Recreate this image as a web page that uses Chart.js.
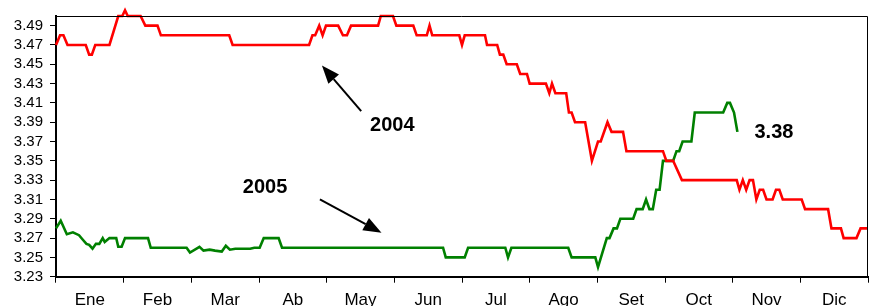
<!DOCTYPE html>
<html>
<head>
<meta charset="utf-8">
<script src="https://cdn.jsdelivr.net/npm/chart.js@4"></script>
<style>
html,body{margin:0;padding:0;background:#fff;}
canvas{display:block;}
</style>
</head>
<body>
<canvas id="c" width="871" height="306"></canvas>
<script>
const months = ['Ene','Feb','Mar','Ab','May','Jun','Jul','Ago','Set','Oct','Nov','Dic'];
const yTicks = [3.23,3.25,3.27,3.29,3.31,3.33,3.35,3.37,3.39,3.41,3.43,3.45,3.47,3.49];

// 2004 series: x in months since start of year, y in soles
const x2004 = [0.00,0.06,0.11,0.17,0.44,0.49,0.53,0.58,0.79,0.92,0.98,1.02,1.06,1.25,1.32,1.50,1.55,2.56,2.61,3.74,3.79,3.83,3.89,3.94,3.99,4.17,4.24,4.30,4.36,4.76,4.80,4.98,5.03,5.28,5.33,5.48,5.52,5.56,5.96,6.00,6.04,6.34,6.37,6.52,6.56,6.61,6.66,6.81,6.86,6.96,7.00,7.24,7.29,7.33,7.38,7.54,7.58,7.62,7.67,7.82,7.92,8.01,8.05,8.15,8.21,8.38,8.43,8.97,9.02,9.12,9.25,10.06,10.10,10.15,10.20,10.25,10.30,10.35,10.40,10.45,10.50,10.59,10.64,10.69,10.74,11.02,11.07,11.41,11.46,11.60,11.64,11.83,11.89,12.00];
const y2004 = [3.47,3.48,3.48,3.47,3.47,3.46,3.46,3.47,3.47,3.50,3.50,3.506,3.50,3.50,3.49,3.49,3.48,3.48,3.47,3.47,3.48,3.48,3.49,3.48,3.49,3.49,3.48,3.48,3.49,3.49,3.50,3.50,3.49,3.49,3.48,3.48,3.49,3.48,3.48,3.47,3.48,3.48,3.47,3.47,3.46,3.46,3.45,3.45,3.44,3.44,3.43,3.43,3.42,3.43,3.42,3.42,3.40,3.40,3.39,3.39,3.35,3.37,3.37,3.39,3.38,3.38,3.36,3.36,3.35,3.35,3.33,3.33,3.32,3.33,3.32,3.33,3.33,3.31,3.32,3.32,3.31,3.31,3.32,3.32,3.31,3.31,3.30,3.30,3.28,3.28,3.27,3.27,3.28,3.28];

// 2005 series
const x2005 = [0.00,0.07,0.16,0.25,0.34,0.40,0.45,0.49,0.54,0.59,0.64,0.69,0.72,0.79,0.89,0.92,0.97,1.02,1.36,1.40,1.93,1.98,2.12,2.18,2.27,2.35,2.45,2.51,2.57,2.65,2.87,2.93,3.01,3.07,3.29,3.34,5.72,5.76,6.04,6.09,6.64,6.68,6.73,7.57,7.62,7.97,8.01,8.14,8.18,8.24,8.29,8.34,8.53,8.58,8.67,8.72,8.77,8.82,8.87,8.92,8.97,9.12,9.17,9.21,9.26,9.39,9.44,9.86,9.92,9.96,10.02,10.07];
const y2005 = [3.28,3.288,3.274,3.276,3.273,3.268,3.264,3.263,3.259,3.264,3.264,3.27,3.266,3.27,3.27,3.261,3.261,3.27,3.27,3.26,3.26,3.255,3.261,3.257,3.258,3.257,3.256,3.262,3.258,3.259,3.259,3.26,3.26,3.27,3.27,3.26,3.26,3.25,3.25,3.26,3.26,3.25,3.26,3.26,3.25,3.25,3.24,3.27,3.27,3.28,3.28,3.29,3.29,3.30,3.30,3.31,3.30,3.30,3.32,3.32,3.35,3.35,3.36,3.36,3.37,3.37,3.40,3.40,3.41,3.41,3.40,3.38];

// annotations (data coordinates)
const noteLabels = [
  {text:'2004', x:4.97, y:3.387},
  {text:'2005', x:3.09, y:3.322},
  {text:'3.38', x:10.61, y:3.379}
];
const noteArrows = [
  {from:[4.51,3.4015], to:[3.93,3.4487]},
  {from:[3.90,3.310], to:[4.81,3.2755]}
];

const FONT = "'Liberation Sans', Arial, sans-serif";

function pts(xs, ys){ return xs.map((x,i)=>({x:x, y:ys[i]})); }

const frame = {
  id:'frame',
  afterDatasetsDraw(chart){
    const {ctx, chartArea:a} = chart;
    ctx.save();
    ctx.strokeStyle = '#000';
    ctx.lineWidth = 1;
    ctx.beginPath();
    ctx.moveTo(a.left, a.top + 0.5);
    ctx.lineTo(a.right - 0.5, a.top + 0.5);
    ctx.lineTo(a.right - 0.5, a.bottom);
    ctx.stroke();
    const xs = chart.scales.xm, ys = chart.scales.y;
    noteArrows.forEach(ar=>{
      const x1 = xs.getPixelForValue(ar.from[0]), y1 = ys.getPixelForValue(ar.from[1]);
      const x2 = xs.getPixelForValue(ar.to[0]), y2 = ys.getPixelForValue(ar.to[1]);
      const ang = Math.atan2(y2-y1, x2-x1);
      const L = 18, W = 7;
      const bx = x2 - L*Math.cos(ang), by = y2 - L*Math.sin(ang);
      ctx.strokeStyle = '#000';
      ctx.lineWidth = 2;
      ctx.beginPath();
      ctx.moveTo(x1,y1);
      ctx.lineTo(bx,by);
      ctx.stroke();
      ctx.fillStyle = '#000';
      ctx.beginPath();
      ctx.moveTo(x2,y2);
      ctx.lineTo(bx + W*Math.sin(ang), by - W*Math.cos(ang));
      ctx.lineTo(bx - W*Math.sin(ang), by + W*Math.cos(ang));
      ctx.closePath();
      ctx.fill();
    });
    ctx.fillStyle = '#000';
    ctx.font = "bold 20px " + FONT;
    ctx.textAlign = 'center';
    ctx.textBaseline = 'middle';
    noteLabels.forEach(l=>{
      ctx.fillText(l.text, xs.getPixelForValue(l.x), ys.getPixelForValue(l.y));
    });
    ctx.restore();
  }
};

new Chart(document.getElementById('c'), {
  type:'line',
  data:{
    labels: months,
    datasets:[
      {label:'2004', data:pts(x2004,y2004), xAxisID:'xm', yAxisID:'y', borderColor:'#FF0000', borderWidth:2.6, pointRadius:0, tension:0, fill:false, clip:false},
      {label:'2005', data:pts(x2005,y2005), xAxisID:'xm', yAxisID:'y', borderColor:'#008000', borderWidth:2.6, pointRadius:0, tension:0, fill:false, clip:false}
    ]
  },
  options:{
    responsive:false,
    animation:false,
    layout:{padding:{top:15, right:3, left:0, bottom:0}},
    plugins:{legend:{display:false}, tooltip:{enabled:false}},
    scales:{
      x:{
        type:'category',
        position:'bottom',
        offset:true,
        grid:{offset:true, drawOnChartArea:false, color:'#000', lineWidth:1, tickLength:6},
        border:{display:true, color:'#000', width:2},
        ticks:{color:'#000', font:{family:FONT, size:17}, padding:7, maxRotation:0, autoSkip:false},
        afterFit(s){ s.height = 29.3; }
      },
      xm:{
        type:'linear', display:false, min:0, max:12
      },
      y:{
        type:'linear',
        min:3.23, max:3.50,
        afterBuildTicks(s){ s.ticks = yTicks.map(v=>({value:v})); },
        grid:{drawOnChartArea:false, color:'#000', lineWidth:1, tickLength:6},
        border:{display:true, color:'#000', width:2},
        ticks:{color:'#000', font:{family:FONT, size:15}, padding:7, autoSkip:false, callback:(v)=>Number(v).toFixed(2)},
        afterFit(s){ s.width = 56; }
      }
    }
  },
  plugins:[frame]
});
</script>
</body>
</html>
